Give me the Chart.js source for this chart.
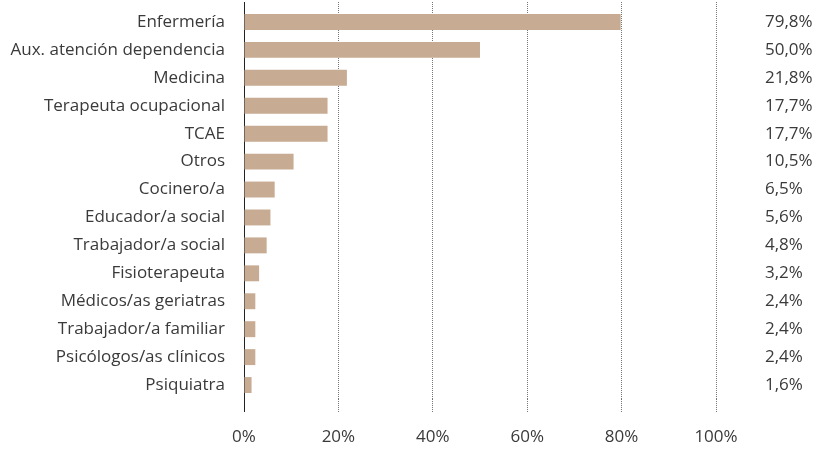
<!DOCTYPE html>
<html>
<head>
<meta charset="utf-8">
<script src="https://cdn.jsdelivr.net/npm/chart.js@4/dist/chart.umd.min.js"></script>
<style>
  html, body { margin: 0; padding: 0; background: #fff; }
  #wrap { width: 819px; height: 450px; position: relative; }
</style>
</head>
<body>
<div id="wrap"><canvas id="chart"></canvas></div>
<script>
'use strict';

const categories = [
  'Enfermería', 'Aux. atención dependencia', 'Medicina', 'Terapeuta ocupacional',
  'TCAE', 'Otros', 'Cocinero/a', 'Educador/a social', 'Trabajador/a social',
  'Fisioterapeuta', 'Médicos/as geriatras', 'Trabajador/a familiar',
  'Psicólogos/as clínicos', 'Psiquiatra'
];
const values = [79.8, 50.0, 21.8, 17.7, 17.7, 10.5, 6.5, 5.6, 4.8, 3.2, 2.4, 2.4, 2.4, 1.6];
const xTicks = [0, 20, 40, 60, 80, 100];

const valueLabels = values.map(v => v.toFixed(1).replace('.', ',') + '%');

const textColor = '#3a3a3a';
const gridColor = '#777';
const axisColor = '#222';
const font = { family: "'Open Sans', sans-serif", size: 17 };

const isZero = ctx => ctx.tick && ctx.tick.value === 0;

// fixed axis sizes, no extra label padding around the category axes
function fitSide(width) {
  return scale => {
    scale.width = width;
    scale.paddingTop = 0;
    scale.paddingBottom = 0;
  };
}

new Chart(document.getElementById('chart').getContext('2d'), {
  type: 'bar',
  data: {
    labels: categories,
    datasets: [{
      data: values,
      backgroundColor: '#c7ab92',
      borderWidth: 0,
      barPercentage: 0.57,
      categoryPercentage: 1,
      xAxisID: 'x',
      yAxisID: 'y'
    }]
  },
  options: {
    indexAxis: 'y',
    responsive: true,
    maintainAspectRatio: false,
    animation: false,
    layout: { padding: { top: 2, right: 0, bottom: 0, left: 0 } },
    plugins: {
      legend: { display: false },
      tooltip: { enabled: false }
    },
    scales: {
      x: {
        type: 'linear',
        position: 'bottom',
        min: 0,
        max: 100,
        afterBuildTicks: scale => { scale.ticks = xTicks.map(v => ({ value: v })); },
        afterFit: scale => { scale.height = 51; },
        ticks: {
          color: textColor,
          font: font,
          padding: 15,
          callback: v => v + '%'
        },
        grid: {
          color: ctx => isZero(ctx) ? 'rgba(0,0,0,0)' : gridColor,
          lineWidth: 1,
          drawTicks: true,
          tickLength: 13,
          tickColor: ctx => isZero(ctx) ? axisColor : gridColor,
          tickBorderDash: ctx => isZero(ctx) ? [] : [1, 1]
        },
        border: { display: false, dash: [1, 1] }
      },
      x2: {
        type: 'linear',
        position: 'top',
        min: 0,
        max: 100,
        afterBuildTicks: scale => { scale.ticks = xTicks.map(v => ({ value: v })); },
        ticks: { display: false },
        grid: {
          drawOnChartArea: false,
          drawTicks: true,
          tickLength: 6,
          tickColor: ctx => isZero(ctx) ? axisColor : gridColor,
          tickBorderDash: ctx => isZero(ctx) ? [] : [1, 1]
        },
        border: { display: false }
      },
      y: {
        type: 'category',
        position: 'left',
        offset: true,
        afterFit: fitSide(244),
        ticks: {
          color: textColor,
          font: font,
          padding: 11,
          autoSkip: false
        },
        grid: { display: false },
        border: { display: true, color: axisColor, width: 1 }
      },
      y2: {
        type: 'category',
        position: 'right',
        offset: true,
        labels: valueLabels,
        afterFit: fitSide(103),
        ticks: {
          color: textColor,
          font: font,
          padding: 41,
          crossAlign: 'near',
          autoSkip: false
        },
        grid: { display: false },
        border: { display: false }
      }
    }
  }
});
</script>
</body>
</html>
